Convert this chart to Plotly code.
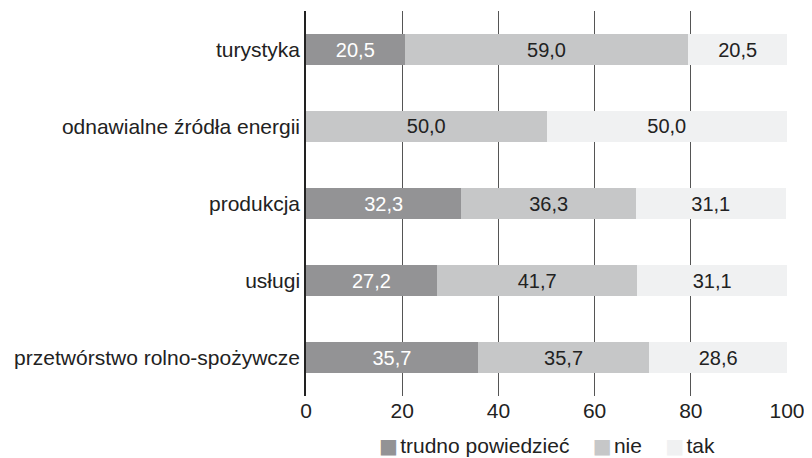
import plotly.graph_objects as go

categories = ["turystyka", "odnawialne źródła energii", "produkcja", "usługi",
              "przetwórstwo rolno-spożywcze"]
trudno = [20.5, 0.0, 32.3, 27.2, 35.7]
nie = [59.0, 50.0, 36.3, 41.7, 35.7]
tak = [20.5, 50.0, 31.1, 31.1, 28.6]
series_names = ["trudno powiedzieć", "nie", "tak"]
tick_vals = [0, 20, 40, 60, 80, 100]

colors = ["#939395", "#c6c7c8", "#f0f1f2"]
text_colors = ["#ffffff", "#222222", "#222222"]
FONT = "Liberation Sans, Arial, sans-serif"


def fmt(v):
    return "" if v == 0 else f"{v:.1f}".replace(".", ",")


fig = go.Figure()
for name, vals, col, tcol in zip(series_names, [trudno, nie, tak], colors, text_colors):
    fig.add_trace(go.Bar(
        y=categories, x=vals, name=name, orientation="h",
        marker=dict(color=col, line=dict(width=0)),
        text=[fmt(v) for v in vals], textposition="inside",
        insidetextanchor="middle",
        textfont=dict(color=tcol, size=20, family=FONT),
        hoverinfo="skip", showlegend=False,
    ))

# legend drawn as a single centered text line (small squares tight to labels)
legend_parts = []
for name, col in zip(series_names, colors):
    legend_parts.append(
        f'<span style="color:{col};font-size:20px;font-family:DejaVu Sans">■</span>'
        f'<span style="font-size:8px"> </span>{name}')
legend_text = "&nbsp;&nbsp;&nbsp;&nbsp;".join(legend_parts)
fig.add_annotation(text=legend_text, xref="paper", yref="paper", x=0.5, y=-0.13,
                   xanchor="center", yanchor="middle", showarrow=False,
                   font=dict(size=21, color="#222222", family=FONT))

fig.update_layout(
    barmode="stack",
    bargap=0.61,
    width=804, height=450,
    margin=dict(l=298, r=25, t=3, b=62, autoexpand=False),
    paper_bgcolor="white", plot_bgcolor="white",
    font=dict(family=FONT, size=21, color="#222222"),
    xaxis=dict(range=[0, 100], tickvals=tick_vals, showgrid=True, gridcolor="#555555",
               gridwidth=1, zeroline=False, showline=False, ticks="",
               automargin=False, tickfont=dict(size=21, color="#222222")),
    yaxis=dict(autorange="reversed", showgrid=False, showline=True,
               linecolor="#222222", linewidth=1.5, ticks="", automargin=False,
               tickfont=dict(size=21, color="#222222")),
    showlegend=False,
)

fig.write_html("out.html")
